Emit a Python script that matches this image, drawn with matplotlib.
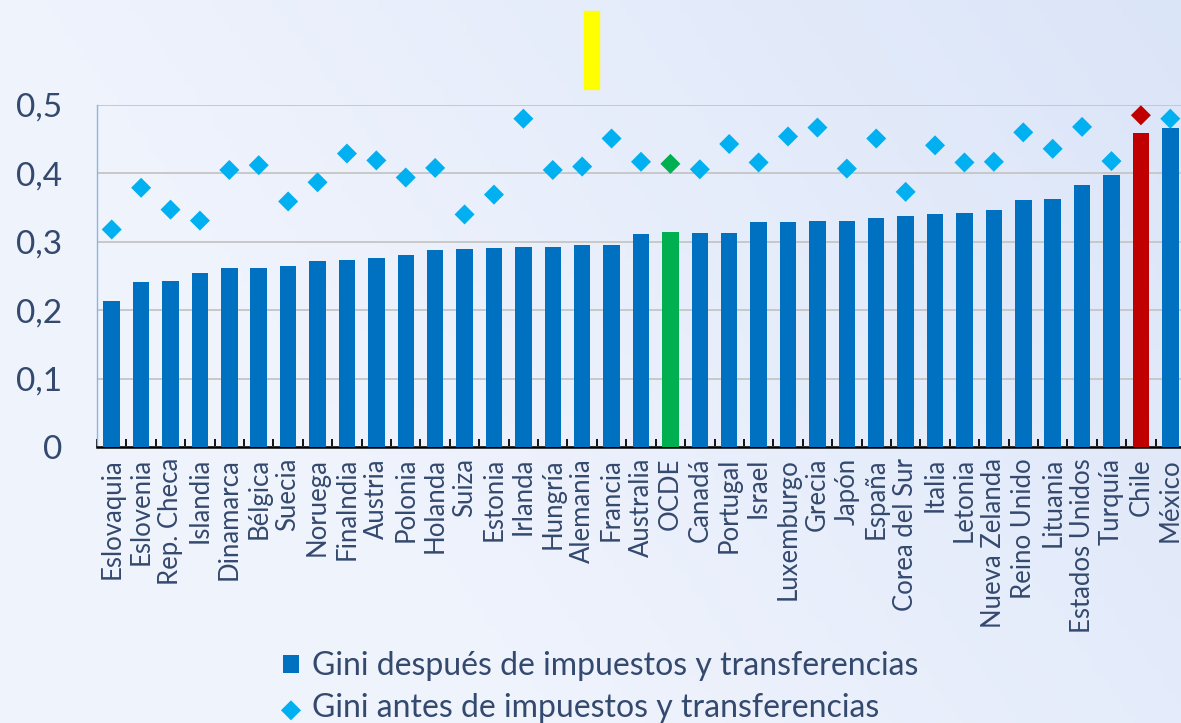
import numpy as np
import matplotlib
matplotlib.use("Agg")
import matplotlib.pyplot as plt
from matplotlib.patches import Rectangle

plt.rcParams['font.family'] = ['Lato', 'DejaVu Sans']

# data
paises = ["Eslovaquia", "Eslovenia", "Rep. Checa", "Islandia", "Dinamarca", "Bélgica",
          "Suecia", "Noruega", "Finalndia", "Austria", "Polonia", "Holanda", "Suiza",
          "Estonia", "Irlanda", "Hungría", "Alemania", "Francia", "Australia", "OCDE",
          "Canadá", "Portugal", "Israel", "Luxemburgo", "Grecia", "Japón", "España",
          "Corea del Sur", "Italia", "Letonia", "Nueva Zelanda", "Reino Unido",
          "Lituania", "Estados Unidos", "Turquía", "Chile", "México"]
gini_despues = [0.214, 0.241, 0.242, 0.255, 0.262, 0.262, 0.265, 0.272, 0.274, 0.276,
                0.280, 0.288, 0.289, 0.291, 0.292, 0.293, 0.295, 0.295, 0.312, 0.314,
                0.313, 0.313, 0.329, 0.329, 0.330, 0.331, 0.335, 0.338, 0.340, 0.342,
                0.346, 0.361, 0.362, 0.383, 0.398, 0.459, 0.466]
gini_antes = [0.318, 0.379, 0.347, 0.331, 0.405, 0.412, 0.359, 0.387, 0.429, 0.419,
              0.394, 0.408, 0.340, 0.369, 0.480, 0.405, 0.410, 0.451, 0.417, 0.414,
              0.406, 0.443, 0.416, 0.454, 0.467, 0.407, 0.451, 0.373, 0.441, 0.416,
              0.417, 0.460, 0.436, 0.468, 0.418, 0.485, 0.480]
y_ticks = [0, 0.1, 0.2, 0.3, 0.4, 0.5]
y_labels = ["0", "0,1", "0,2", "0,3", "0,4", "0,5"]
leyenda = ["Gini después de impuestos y transferencias",
           "Gini antes de impuestos y transferencias"]

AZUL = "#0070C0"
CELESTE = "#00B0F0"
VERDE = "#00B050"
ROJO = "#C00000"
TEXTO = "#34496E"

color_barra = [VERDE if p == "OCDE" else ROJO if p == "Chile" else AZUL for p in paises]
color_punto = [VERDE if p == "OCDE" else ROJO if p == "Chile" else CELESTE for p in paises]

fig = plt.figure(figsize=(11.81, 7.23), dpi=100)

# soft light-blue background
bg = fig.add_axes([0, 0, 1, 1], zorder=-10)
gx = np.linspace(0, 1, 200)
gy = np.linspace(0, 1, 120)
X, Y = np.meshgrid(gx, gy)
t = np.clip(X * 0.8 + (1 - Y) * 0.35 - 0.35, 0, 1)
c0 = np.array([0.94, 0.955, 0.99])
c1 = np.array([0.84, 0.885, 0.97])
img = c0[None, None, :] * (1 - t[..., None]) + c1[None, None, :] * t[..., None]
bg.imshow(img, aspect='auto', extent=[0, 1, 0, 1], origin='upper')
bg.axis('off')

ax = fig.add_axes([97 / 1181, 1 - 447 / 723, 1088 / 1181, (447 - 105) / 723])
ax.set_facecolor('none')
x = np.arange(len(paises))
barras = ax.bar(x, gini_despues, width=0.56, color=color_barra, zorder=3)
puntos = ax.scatter(x, gini_antes, marker='D', s=104, c=color_punto, linewidths=0,
                    zorder=4)

ax.set_xlim(-0.5, len(paises) - 0.5)
ax.set_ylim(0, 0.5)
ax.set_yticks(y_ticks)
ax.set_yticklabels(y_labels, fontsize=24, color=TEXTO)
ax.tick_params(axis='y', length=0, pad=25)
ax.yaxis.grid(True, color="#C8C8C8", linewidth=1.4, zorder=0)
ax.set_axisbelow(True)

ax.set_xticks(x)
ax.set_xticklabels(paises, rotation=90, fontsize=18.5, color=TEXTO)
ax.tick_params(axis='x', which='major', length=0, pad=8)
ax.set_xticks(np.arange(-0.5, len(paises), 1), minor=True)
ax.tick_params(axis='x', which='minor', direction='in', length=6, width=1.3,
               color='black')

for s in ['top', 'right']:
    ax.spines[s].set_visible(False)
ax.spines['bottom'].set_color('black')
ax.spines['bottom'].set_linewidth(1.8)
ax.spines['left'].set_color('#8DB4E2')
ax.spines['left'].set_linewidth(1.0)

# yellow marker at the top
fig.patches.append(Rectangle((584 / 1181, 1 - 89 / 723), 15 / 1181, 78 / 723,
                             transform=fig.transFigure, color="#FFFF00"))

leg = fig.legend([barras, puntos], leyenda, loc='upper left',
                 bbox_to_anchor=(283 / 1181, 1 - 651 / 723),
                 frameon=False, fontsize=23, handlelength=0.5, handleheight=0.5,
                 handletextpad=0.4, labelspacing=0.38, borderaxespad=0, borderpad=0,
                 markerscale=1.0)
for t_ in leg.get_texts():
    t_.set_color(TEXTO)

fig.savefig("out.png", dpi=100)
